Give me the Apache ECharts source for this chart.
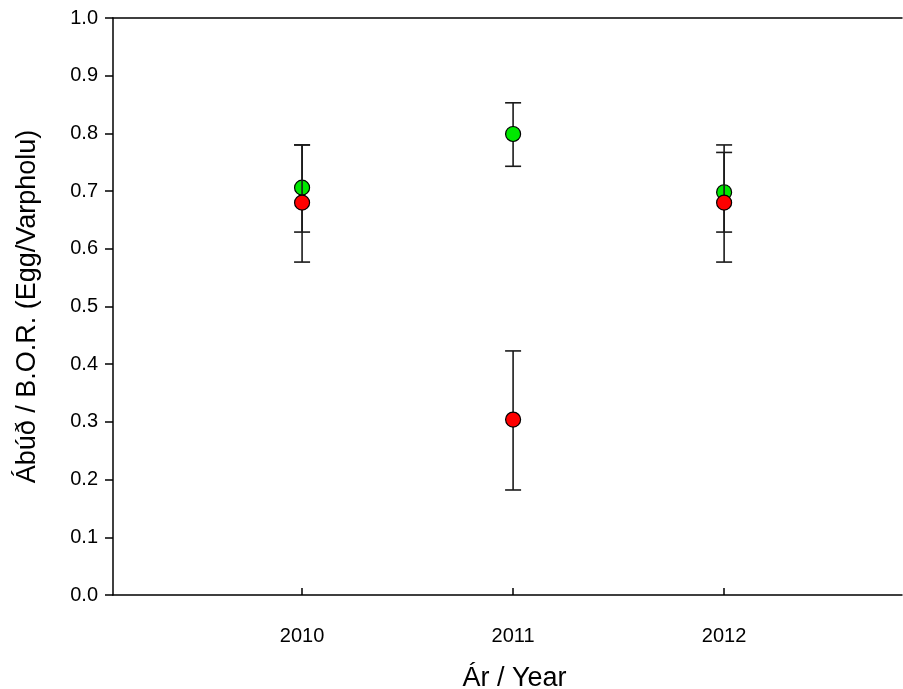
<!DOCTYPE html>
<html>
<head>
<meta charset="utf-8">
<script src="https://cdn.jsdelivr.net/npm/echarts@6/dist/echarts.min.js"></script>
<style>html,body{margin:0;padding:0;background:#fff;}#c{width:903px;height:689px;}</style>
</head>
<body>
<div id="c"></div>
<script>
const years = [2010, 2011, 2012];
const greenMean = [0.706, 0.799, 0.698];
const greenUpper = [0.780, 0.853, 0.767];
const greenLower = [0.629, 0.743, 0.629];
const redMean = [0.680, 0.304, 0.680];
const redUpper = [0.780, 0.423, 0.780];
const redLower = [0.577, 0.182, 0.577];

const chart = echarts.init(document.getElementById('c'));
const font = 'Liberation Sans, Arial, sans-serif';

function errSeries(upper, lower, z) {
  return {
    type: 'custom', z: z,
    data: years.map((y, i) => [y, lower[i], upper[i]]),
    renderItem: function (params, api) {
      const x = api.value(0);
      const lo = api.coord([x, api.value(1)]);
      const hi = api.coord([x, api.value(2)]);
      const hw = 8;
      const st = { stroke: '#1a1a1a', lineWidth: 1.6 };
      return { type: 'group', children: [
        { type: 'line', shape: { x1: lo[0], y1: lo[1], x2: hi[0], y2: hi[1] }, style: st },
        { type: 'line', shape: { x1: lo[0]-hw, y1: lo[1], x2: lo[0]+hw, y2: lo[1] }, style: st },
        { type: 'line', shape: { x1: hi[0]-hw, y1: hi[1], x2: hi[0]+hw, y2: hi[1] }, style: st }
      ]};
    },
    silent: true
  };
}
function ptSeries(mean, color, z) {
  return {
    type: 'scatter', z: z, symbol: 'circle', symbolSize: 15,
    data: years.map((y, i) => [y, mean[i]]),
    itemStyle: { color: color, borderColor: '#000', borderWidth: 1.2, opacity: 1 },
    emphasis: { disabled: true }, silent: true
  };
}

chart.setOption({
  animation: false,
  backgroundColor: '#fff',
  grid: { left: 113, top: 18, width: 789, height: 577, show: false, containLabel: false, outerBoundsMode: 'none' },
  xAxis: [{
    type: 'value', min: 2009.104, max: 2012.843,
    name: 'Ár / Year', nameLocation: 'middle', nameGap: 70,
    nameTextStyle: { fontFamily: font, fontSize: 27, color: '#000', padding: [0, 0, 0, 14] },
    axisLine: { lineStyle: { color: '#000', width: 1.5 } },
    axisTick: { inside: true, length: 7, customValues: years, lineStyle: { color: '#000', width: 1.5 } },
    axisLabel: { customValues: years, formatter: v => String(v), fontFamily: font, fontSize: 20, color: '#000', margin: 31 },
    splitLine: { show: false }
  }, {
    type: 'value', position: 'top', min: 2009.104, max: 2012.843,
    axisLine: { show: true, onZero: false, lineStyle: { color: '#000', width: 1.5 } },
    axisTick: { show: false }, axisLabel: { show: false }, splitLine: { show: false }
  }],
  yAxis: {
    type: 'value', min: 0, max: 1, interval: 0.1,
    name: 'Ábúð / B.O.R. (Egg/Varpholu)', nameLocation: 'middle', nameGap: 72,
    nameTextStyle: { fontFamily: font, fontSize: 27, color: '#000' },
    axisLine: { show: true, lineStyle: { color: '#000', width: 1.5 } },
    axisTick: { show: true, inside: false, length: 8, lineStyle: { color: '#000', width: 1.5 } },
    axisLabel: { formatter: v => v.toFixed(1), fontFamily: font, fontSize: 20, color: '#000', margin: 15 },
    splitLine: { show: false }
  },
  series: [
    errSeries(greenUpper, greenLower, 2),
    ptSeries(greenMean, '#00e800', 3),
    errSeries(redUpper, redLower, 4),
    ptSeries(redMean, '#ff0000', 5)
  ]
});
</script>
</body>
</html>
